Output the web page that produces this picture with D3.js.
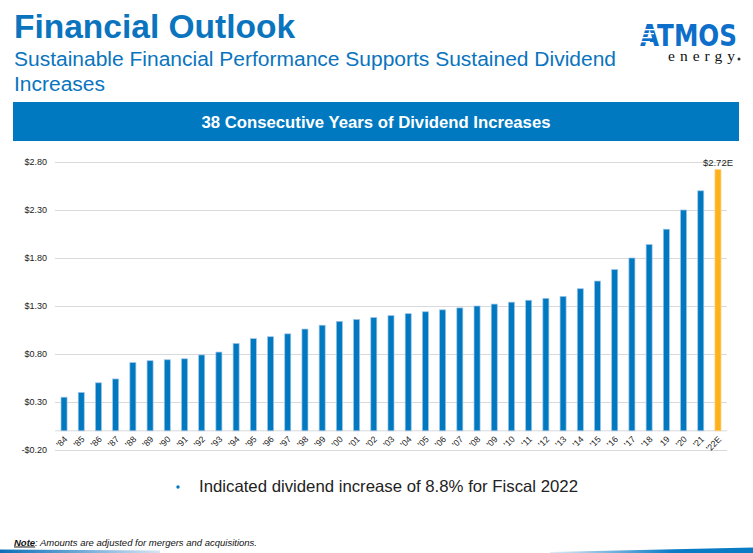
<!DOCTYPE html>
<html>
<head>
<meta charset="utf-8">
<script src="https://cdn.jsdelivr.net/npm/d3@7"></script>
<style>
    body { margin: 0; background: #fff; }
    svg { display: block; font-family: "Liberation Sans", Arial, sans-serif; }
</style>
</head>
<body>
<div id="chart"></div>
<script>
// chart data
const years = ["'84", "'85", "'86", "'87", "'88", "'89", "'90", "'91", "'92", "'93",
    "'94", "'95", "'96", "'97", "'98", "'99", "'00", "'01", "'02", "'03",
    "'04", "'05", "'06", "'07", "'08", "'09", "'10", "'11", "'12", "'13",
    "'14", "'15", "'16", "'17", "'18", "19", "'20", "'21", "'22E"];
const dividends = [0.35, 0.40, 0.50, 0.54, 0.71, 0.73, 0.74, 0.75, 0.79, 0.82,
    0.91, 0.96, 0.98, 1.01, 1.06, 1.10, 1.14, 1.16, 1.18, 1.20,
    1.22, 1.24, 1.26, 1.28, 1.30, 1.32, 1.34, 1.36, 1.38, 1.40,
    1.48, 1.56, 1.68, 1.80, 1.94, 2.10, 2.30, 2.50, 2.72];
const yTicks = [-0.2, 0.3, 0.8, 1.3, 1.8, 2.3, 2.8];
const estimateLabel = "$2.72E";

const width = 753, height = 553;
const blue = "#0079c1";

let svg = d3.select("#chart").append("svg")
    .attr("width", width)
    .attr("height", height);

// header
svg.append("text")
    .attr("x", 14).attr("y", 38)
    .attr("font-size", 33.5).attr("font-weight", "bold")
    .attr("fill", "#0a74be")
    .text("Financial Outlook");

svg.append("text")
    .attr("x", 14).attr("y", 66)
    .attr("font-size", 19.5)
    .attr("textLength", 602).attr("lengthAdjust", "spacingAndGlyphs")
    .attr("fill", "#0a74be")
    .text("Sustainable Financial Performance Supports Sustained Dividend");

svg.append("text")
    .attr("x", 14).attr("y", 91)
    .attr("font-size", 19.5)
    .attr("textLength", 91).attr("lengthAdjust", "spacingAndGlyphs")
    .attr("fill", "#0a74be")
    .text("Increases");

// logo
let logo = svg.append("g").attr("class", "logo");
logo.append("text")
    .attr("x", 640).attr("y", 45.5)
    .attr("font-size", 30).attr("font-weight", "bold")
    .attr("font-family", "'DejaVu Sans', sans-serif")
    .attr("textLength", 97).attr("lengthAdjust", "spacingAndGlyphs")
    .attr("fill", "#0d6fc9")
    .text("ATMOS");
[29, 33, 37, 41].forEach((y, i) => {
    logo.append("rect")
        .attr("x", 636).attr("y", y)
        .attr("width", 20 - i * 2).attr("height", 1.3)
        .attr("fill", "#fff");
});
logo.append("text")
    .attr("x", 668).attr("y", 60.5)
    .attr("font-size", 15.5)
    .attr("font-family", "'Liberation Serif', serif")
    .attr("textLength", 67).attr("lengthAdjust", "spacing")
    .attr("fill", "#111")
    .text("energy");
logo.append("circle")
    .attr("cx", 739).attr("cy", 59).attr("r", 1.5)
    .attr("fill", "#333");

// banner
svg.append("rect")
    .attr("x", 13).attr("y", 102)
    .attr("width", 726).attr("height", 39)
    .attr("fill", blue);
svg.append("text")
    .attr("x", 376).attr("y", 128)
    .attr("text-anchor", "middle")
    .attr("font-size", 16.3).attr("font-weight", "bold")
    .attr("textLength", 349).attr("lengthAdjust", "spacingAndGlyphs")
    .attr("fill", "#fff")
    .text("38 Consecutive Years of Dividend Increases");

// scales
let x = d3.scaleBand()
    .domain(years)
    .range([55, 727])
    .paddingInner(0.65)
    .paddingOuter(0.35);

let y = d3.scaleLinear()
    .domain([-0.2, 2.8])
    .range([450, 162]);

// gridlines + y labels
let yAxis = d3.axisLeft(y)
    .tickValues(yTicks)
    .tickSize(-(727 - 55))
    .tickPadding(8)
    .tickFormat(d => (d < 0 ? "-$" : "$") + Math.abs(d).toFixed(2));

let yG = svg.append("g")
    .attr("class", "axis y-axis")
    .attr("transform", "translate(55,0)")
    .call(yAxis);
yG.select(".domain").remove();
yG.selectAll(".tick line").attr("stroke", "#d9d9d9").attr("stroke-width", 1);
yG.selectAll(".tick text")
    .attr("font-size", 9)
    .attr("font-family", "'Liberation Sans', Arial, sans-serif")
    .attr("fill", "#222");

// zero line
svg.append("line")
    .attr("x1", 55).attr("x2", 727)
    .attr("y1", y(0)).attr("y2", y(0))
    .attr("stroke", "#d9d9d9");

// bars
svg.selectAll(".bar")
    .data(years)
    .enter().append("rect")
    .attr("class", "bar")
    .attr("x", d => x(d))
    .attr("width", x.bandwidth())
    .attr("y", (d, i) => y(dividends[i]))
    .attr("height", (d, i) => y(0) - y(dividends[i]))
    .attr("fill", (d, i) => i === years.length - 1 ? "#fdb21d" : blue)
    .attr("stroke", (d, i) => i === years.length - 1 ? "#fdd27a" : "#9fc4e6")
    .attr("stroke-width", 0.7);

// estimate label
let last = years[years.length - 1];
svg.append("text")
    .attr("x", x(last) + x.bandwidth() / 2)
    .attr("y", y(dividends[dividends.length - 1]) - 3.5)
    .attr("text-anchor", "middle")
    .attr("font-size", 9.5)
    .attr("fill", "#222")
    .text(estimateLabel);

// x labels
let xAxis = d3.axisBottom(x).tickSize(0).tickPadding(0);
let xG = svg.append("g")
    .attr("class", "axis x-axis")
    .attr("transform", `translate(0,${y(0)})`)
    .call(xAxis);
xG.select(".domain").remove();
xG.selectAll(".tick text")
    .attr("font-size", 8.8)
    .attr("font-family", "'Liberation Sans', Arial, sans-serif")
    .attr("fill", "#222")
    .attr("text-anchor", "end")
    .attr("dy", 0)
    .attr("transform", "translate(4,9) rotate(-45)");

// bullet text
svg.append("circle")
    .attr("cx", 178).attr("cy", 487).attr("r", 1.7)
    .attr("fill", blue);
svg.append("text")
    .attr("x", 199).attr("y", 492)
    .attr("font-size", 16.5)
    .attr("textLength", 379).attr("lengthAdjust", "spacingAndGlyphs")
    .attr("fill", "#222")
    .text("Indicated dividend increase of 8.8% for Fiscal 2022");

// note
let note = svg.append("text")
    .attr("x", 14).attr("y", 545.5)
    .attr("font-size", 9.5)
    .attr("font-style", "italic")
    .attr("font-family", "'Liberation Sans Narrow', 'Liberation Sans', sans-serif")
    .attr("textLength", 243).attr("lengthAdjust", "spacingAndGlyphs")
    .attr("fill", "#111");
note.append("tspan")
    .attr("font-weight", "bold")
    .attr("text-decoration", "underline")
    .text("Note");
note.append("tspan").text(": Amounts are adjusted for mergers and acquisitions.");

// bottom swooshes
let defs = svg.append("defs");
let gl = defs.append("linearGradient").attr("id", "swoosh-left");
gl.append("stop").attr("offset", "0%").attr("stop-color", "#0a6fb8");
gl.append("stop").attr("offset", "100%").attr("stop-color", "#d6e4f2");
let gr = defs.append("linearGradient").attr("id", "swoosh-right");
gr.append("stop").attr("offset", "0%").attr("stop-color", "#e0ebf5");
gr.append("stop").attr("offset", "60%").attr("stop-color", "#0a7cc6");
gr.append("stop").attr("offset", "100%").attr("stop-color", "#0a7cc6");

svg.append("path")
    .attr("d", "M0,549.5 L160,550.5 L160,553 L0,553 Z")
    .attr("fill", "url(#swoosh-left)");
svg.append("path")
    .attr("d", "M550,552 L753,547.5 L753,553 L550,553 Z")
    .attr("fill", "url(#swoosh-right)");
</script>
</body>
</html>
